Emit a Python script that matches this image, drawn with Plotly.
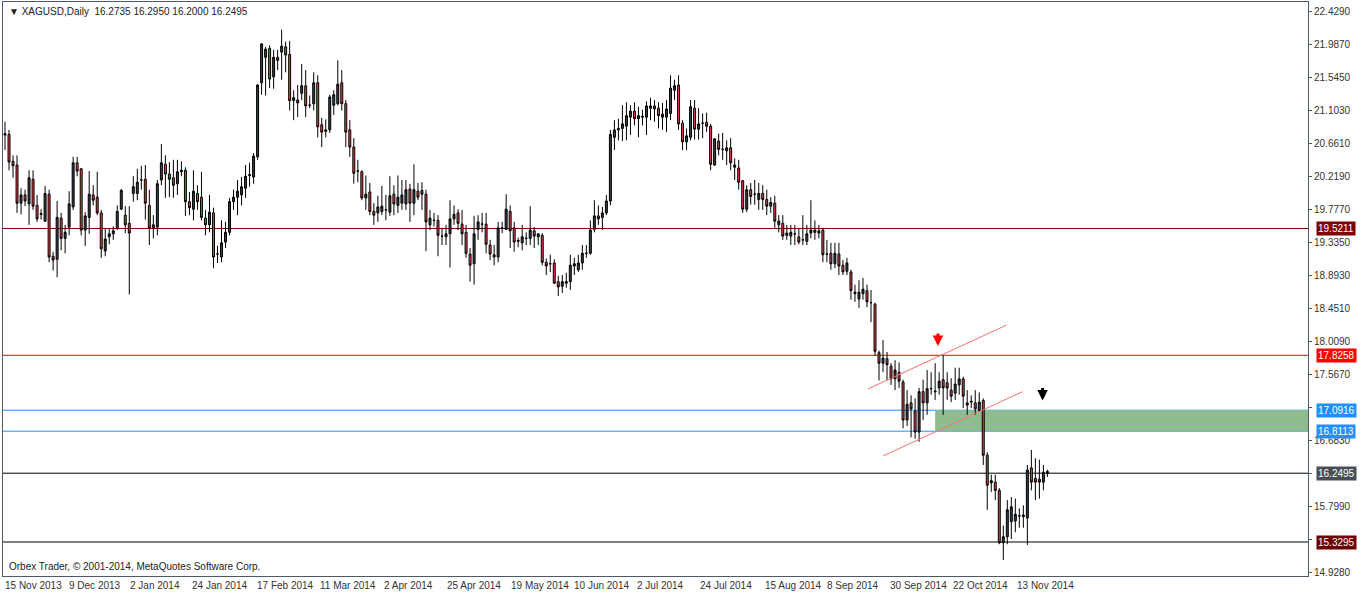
import plotly.graph_objects as go

bars = [
(20.77,20.95,20.57,20.79),(20.78,20.84,20.30,20.41),(20.42,20.50,20.20,20.36),(20.37,20.50,19.73,19.86),
(19.86,20.06,19.71,19.97),(19.97,20.04,19.82,19.89),(19.85,20.30,19.57,20.20),(20.18,20.30,19.77,19.82),
(19.83,19.97,19.61,19.65),(19.71,19.78,19.64,19.72),(19.62,20.09,19.61,19.99),(19.98,20.04,19.07,19.14),
(19.15,19.21,18.96,19.10),(19.11,19.89,18.87,19.67),(19.66,19.73,19.23,19.39),(19.39,19.57,19.19,19.47),
(19.54,20.02,19.43,19.85),(19.81,20.48,19.77,20.40),(20.40,20.48,20.22,20.29),(20.32,20.33,19.43,19.50),
(19.50,19.74,19.29,19.69),(19.67,20.29,19.45,19.98),(19.97,20.10,19.83,19.90),(19.94,20.28,19.70,19.73),
(19.73,19.77,19.13,19.25),(19.22,19.53,19.15,19.38),(19.41,19.53,19.31,19.45),(19.45,19.55,19.37,19.49),
(19.53,19.83,19.50,19.75),(19.78,20.05,19.77,20.03),(19.70,19.82,19.46,19.57),(19.59,19.82,18.64,19.46),
(19.99,20.22,19.88,20.08),(19.99,20.32,19.90,20.14),(20.17,20.36,20.04,20.17),(20.18,20.37,19.64,19.86),
(19.83,20.04,19.30,19.53),(19.53,19.70,19.39,19.57),(19.54,20.17,19.43,20.12),(20.17,20.65,20.10,20.40),
(20.38,20.50,19.93,20.25),(20.25,20.41,19.94,20.18),(20.20,20.44,19.93,20.10),(20.12,20.44,19.97,20.28),
(20.28,20.42,20.22,20.30),(20.30,20.34,19.69,19.88),(19.88,20.01,19.70,19.80),(19.78,20.30,19.63,20.02),
(19.99,20.10,19.77,19.88),(19.94,20.28,19.63,19.67),(19.66,19.77,19.43,19.57),(19.57,19.97,19.47,19.74),
(19.73,19.80,18.99,19.14),(19.18,19.29,19.06,19.18),(19.14,19.63,19.07,19.33),(19.34,19.61,19.26,19.47),
(19.47,19.93,19.43,19.88),(19.88,20.04,19.77,19.94),(19.94,20.17,19.70,20.02),(19.97,20.21,19.83,20.08),
(20.06,20.37,19.93,20.22),(20.23,20.40,20.08,20.24),(20.21,20.53,20.12,20.49),(20.48,21.45,20.44,21.44),
(21.47,22.00,21.31,21.99),(21.81,21.95,21.30,21.92),(21.93,21.97,21.40,21.52),(21.55,21.91,21.39,21.81),
(21.81,21.91,21.64,21.77),(21.88,22.18,21.51,21.96),(21.95,22.02,21.61,21.84),(21.85,22.03,21.10,21.23),
(21.23,21.37,20.97,21.27),(21.24,21.44,21.01,21.20),(21.33,21.72,21.24,21.43),(21.43,21.64,21.01,21.16),
(21.17,21.30,21.13,21.17),(21.19,21.61,21.10,21.47),(21.47,21.57,20.74,20.88),(20.91,21.00,20.61,20.81),
(20.82,20.98,20.74,20.84),(20.84,21.31,20.80,21.28),(21.17,21.37,21.04,21.31),(21.19,21.77,21.17,21.45),
(21.47,21.64,21.10,21.19),(21.19,21.24,20.61,20.81),(20.84,20.97,20.48,20.61),(20.61,20.73,20.12,20.26),
(20.29,20.44,20.14,20.29),(20.28,20.30,19.90,19.93),(19.93,20.23,19.77,19.98),(20.01,20.13,19.70,19.75),
(19.75,19.86,19.57,19.70),(19.73,19.96,19.61,19.81),(19.75,20.09,19.70,19.82),(19.77,19.97,19.63,19.77),
(19.74,20.22,19.69,19.96),(19.98,20.10,19.70,19.85),(19.83,20.23,19.73,19.94),(19.86,20.17,19.77,19.97),
(19.85,20.17,19.77,20.04),(20.05,20.12,19.61,19.86),(19.86,20.38,19.70,20.04),(20.02,20.13,19.90,19.94),
(20.03,20.14,19.77,19.98),(19.98,20.04,19.22,19.61),(19.57,19.77,19.50,19.66),(19.63,19.73,19.55,19.63),
(19.63,19.70,19.15,19.43),(19.42,19.53,19.30,19.42),(19.41,19.57,19.30,19.45),(19.45,19.90,19.00,19.65),
(19.65,19.83,19.57,19.71),(19.73,19.78,19.50,19.59),(19.58,19.77,19.30,19.45),(19.47,19.57,19.13,19.19),
(19.18,19.26,18.81,19.03),(19.05,19.69,18.77,19.45),(19.51,19.70,19.37,19.61),(19.58,19.73,19.47,19.58),
(19.58,19.73,19.19,19.31),(19.30,19.37,19.10,19.18),(19.17,19.30,19.03,19.14),(19.14,19.61,19.07,19.53),
(19.53,19.61,19.46,19.53),(19.51,19.98,19.50,19.78),(19.75,19.83,19.26,19.49),(19.53,19.61,19.21,19.34),
(19.35,19.40,19.27,19.36),(19.33,19.57,19.23,19.41),(19.39,19.47,19.30,19.39),(19.39,19.82,19.30,19.50),
(19.49,19.54,19.26,19.42),(19.41,19.45,19.30,19.45),(19.43,19.46,19.03,19.07),(19.07,19.12,18.90,19.02),
(19.05,19.17,18.94,19.05),(19.06,19.11,18.78,18.79),(18.81,18.89,18.62,18.74),(18.75,18.90,18.66,18.81),
(18.79,18.93,18.73,18.81),(18.81,19.17,18.70,19.03),(19.02,19.13,18.90,19.05),(18.97,19.17,18.94,19.06),
(19.06,19.30,18.97,19.19),(19.19,19.30,19.13,19.19),(19.19,19.63,19.17,19.50),(19.51,19.90,19.47,19.69),
(19.69,19.83,19.57,19.65),(19.67,19.81,19.50,19.73),(19.73,19.97,19.70,19.89),(19.89,20.84,19.83,20.78),
(20.74,20.97,20.57,20.84),(20.84,20.99,20.70,20.86),(20.86,21.17,20.69,20.92),(20.89,21.21,20.70,21.03),
(21.01,21.17,20.77,21.09),(21.09,21.21,20.90,20.99),(20.99,21.15,20.74,21.03),(21.01,21.11,20.90,21.02),
(21.01,21.22,20.77,21.16),(21.13,21.27,20.97,21.16),(21.16,21.24,20.95,21.12),(21.13,21.21,20.86,21.03),
(21.01,21.20,20.84,21.05),(21.01,21.24,20.81,21.12),(21.06,21.57,20.97,21.40),(21.37,21.51,21.24,21.43),
(21.44,21.57,20.84,20.92),(20.93,20.97,20.57,20.68),(20.68,20.86,20.57,20.76),(20.74,21.24,20.70,21.15),
(21.13,21.24,20.71,20.85),(20.85,21.13,20.71,20.92),(20.93,21.06,20.73,20.93),(20.94,21.07,20.81,20.89),
(20.89,20.92,20.30,20.38),(20.37,20.73,20.36,20.72),(20.69,20.79,20.50,20.58),(20.58,20.80,20.44,20.58),
(20.56,20.70,20.37,20.60),(20.60,20.73,20.30,20.40),(20.37,20.46,20.17,20.34),(20.33,20.44,20.04,20.14),
(20.16,20.17,19.73,19.78),(19.78,20.10,19.74,20.04),(20.04,20.13,19.84,19.95),(19.98,20.17,19.84,19.98),
(19.91,20.13,19.77,19.99),(19.99,20.10,19.77,19.91),(19.91,20.04,19.70,19.82),(19.82,19.94,19.73,19.87),
(19.86,19.96,19.53,19.62),(19.57,19.70,19.47,19.62),(19.59,19.70,19.37,19.42),(19.43,19.57,19.37,19.46),
(19.42,19.57,19.30,19.47),(19.45,19.57,19.30,19.45),(19.41,19.53,19.31,19.34),(19.37,19.70,19.30,19.37),
(19.35,19.57,19.30,19.45),(19.46,19.90,19.39,19.50),(19.50,19.63,19.37,19.47),(19.49,19.57,19.39,19.46),
(19.50,19.53,19.07,19.17),(19.18,19.37,19.07,19.18),(19.19,19.33,18.97,19.05),(19.05,19.33,18.99,19.19),
(19.18,19.33,18.90,19.02),(19.03,19.10,18.90,18.94),(18.95,19.13,18.90,19.06),(18.94,18.97,18.57,18.69),
(18.65,18.77,18.54,18.67),(18.58,18.83,18.46,18.67),(18.65,18.86,18.57,18.71),(18.69,18.77,18.47,18.54),
(18.53,18.70,18.27,18.53),(18.51,18.53,17.82,17.88),(17.86,17.89,17.49,17.72),(17.72,18.03,17.60,17.79),
(17.78,17.87,17.49,17.70),(17.68,17.72,17.43,17.51),(17.51,17.76,17.36,17.63),(17.60,17.73,17.39,17.48),
(17.47,17.50,16.85,16.96),(16.96,17.36,16.88,17.17),(17.19,17.29,16.73,17.11),(17.08,17.25,16.71,16.80),
(16.80,17.39,16.67,17.34),(17.34,17.50,16.96,17.19),(17.19,17.63,17.03,17.38),(17.38,17.60,17.30,17.38),
(17.35,17.72,17.23,17.34),(17.39,17.60,17.30,17.48),(17.50,17.83,17.03,17.39),(17.46,17.60,17.23,17.39),
(17.36,17.52,17.20,17.28),(17.32,17.66,17.23,17.44),(17.43,17.66,17.30,17.51),(17.51,17.54,17.12,17.28),
(17.19,17.36,17.03,17.16),(17.20,17.29,17.12,17.21),(17.19,17.36,17.03,17.11),(17.09,17.33,17.07,17.20),
(17.22,17.25,16.36,16.49),(16.49,16.53,15.76,16.09),(16.12,16.23,16.00,16.15),(16.13,16.23,15.89,16.02),
(16.02,16.05,15.30,15.32),(15.32,15.55,15.09,15.40),(15.40,15.89,15.30,15.76),(15.60,15.93,15.37,15.80),
(15.61,15.91,15.46,15.70),(15.68,15.78,15.52,15.68),(15.67,15.82,15.52,15.69),(15.65,16.36,15.29,16.29),
(16.32,16.56,16.02,16.13),(16.18,16.45,15.89,16.13),(16.17,16.43,15.91,16.13),(16.13,16.36,16.02,16.26),
(16.2735,16.2950,16.2000,16.2495),
]
opens = [b[0] for b in bars]
highs = [b[1] for b in bars]
lows = [b[2] for b in bars]
closes = [b[3] for b in bars]

date_labels = ["15 Nov 2013", "9 Dec 2013", "2 Jan 2014", "24 Jan 2014", "17 Feb 2014", "11 Mar 2014",
               "2 Apr 2014", "25 Apr 2014", "19 May 2014", "10 Jun 2014", "2 Jul 2014", "24 Jul 2014",
               "15 Aug 2014", "8 Sep 2014", "30 Sep 2014", "22 Oct 2014", "13 Nov 2014"]
date_label_pos = [0, 16, 31.2, 46.6, 62.8, 78.6, 94.5, 110.2, 126.2, 141.9, 157.6, 173.3,
                  189.5, 205.0, 220.7, 236.4, 252.4]
y_ticks = [22.4290, 21.9870, 21.5450, 21.1030, 20.6610, 20.2190, 19.7770, 19.3350, 18.8930,
           18.4510, 18.0090, 17.5670, 17.1250, 16.6830, 16.2410, 15.7990, 15.3570, 14.9280]
hidden_ticks = [17.1250, 16.2410, 15.3570]
levels = [(19.5211, "#800000", "#800000", "white"), (17.8258, "#ff0000", "#ff0000", "white"),
          (17.0916, "#1e90ff", "#1e90ff", "white"), (16.8113, "#1e90ff", "#1e90ff", "white"),
          (16.2495, "#000000", "#464f57", "white"), (15.3295, "#000000", "#6b0000", "white")]
zone = (232.0, 17.0916, 16.8113)
trend1 = [(215.2, 17.375), (249.8, 18.23)]
trend2 = [(219.0, 16.48), (253.8, 17.34)]
arrows = [(232.7, 17.95, "#ff0000"), (258.8, 17.22, "#000000")]

x = list(range(len(bars)))
fig = go.Figure()
fig.add_trace(go.Candlestick(
    x=x, open=opens, high=highs, low=lows, close=closes,
    increasing=dict(line=dict(color="#000000", width=1), fillcolor="#36414b"),
    decreasing=dict(line=dict(color="#000000", width=1), fillcolor="#e2434b"),
    whiskerwidth=0, showlegend=False, hoverinfo="skip"))

XMIN, XMAX = -0.5, 325.0
shapes = []
shapes.append(dict(type="rect", xref="x", yref="y", x0=zone[0], x1=XMAX, y0=zone[2], y1=zone[1],
                   fillcolor="#8fbc8f", line=dict(width=0), layer="below"))
for val, lc, bg, fc in levels:
    shapes.append(dict(type="line", xref="paper", yref="y", x0=0, x1=1, y0=val, y1=val,
                       line=dict(color=lc, width=1), layer="below"))
for t in (trend1, trend2):
    shapes.append(dict(type="line", xref="x", yref="y", x0=t[0][0], y0=t[0][1], x1=t[1][0], y1=t[1][1],
                       line=dict(color="#ff6f6f", width=1)))
fig.update_layout(shapes=shapes)

ann = []
for val, lc, bg, fc in levels:
    ann.append(dict(xref="paper", yref="y", x=1.0, y=val, xanchor="left", yanchor="middle", xshift=8,
                    text=f"{val:.4f}", showarrow=False, bgcolor=bg,
                    font=dict(family="Liberation Sans, Arial", size=10, color=fc), borderpad=1))
for pos, lab in zip(date_label_pos, date_labels):
    ann.append(dict(xref="x", yref="paper", x=pos, y=0, yanchor="top", xanchor="left",
                    xshift=-2, yshift=-2, text=lab, showarrow=False,
                    font=dict(family="Liberation Sans, Arial", size=10, color="#333")))
for ax_, ay_, c in arrows:
    ann.append(dict(xref="x", yref="y", x=ax_, y=ay_, ax=0, ay=-14, showarrow=True,
                    arrowhead=2, arrowsize=0.7, arrowwidth=3, arrowcolor=c, text=""))
ann.append(dict(xref="paper", yref="paper", x=0.003, y=1, yshift=-2, xanchor="left", yanchor="top",
                text="▼ XAGUSD,Daily  16.2735 16.2950 16.2000 16.2495", showarrow=False,
                font=dict(family="Liberation Sans, Arial", size=10, color="#222")))
ann.append(dict(xref="paper", yref="paper", x=0.003, y=0, yshift=2, xanchor="left", yanchor="bottom",
                text="Orbex Trader, © 2001-2014, MetaQuotes Software Corp.", showarrow=False,
                font=dict(family="Liberation Sans, Arial", size=10, color="#222")))
fig.update_layout(annotations=ann)

fig.update_layout(
    width=1362, height=594, margin=dict(l=3, r=54, t=2, b=18, autoexpand=False),
    paper_bgcolor="white", plot_bgcolor="white",
    xaxis=dict(range=[XMIN, XMAX], rangeslider=dict(visible=False), showgrid=False, showticklabels=False,
               zeroline=False, showline=True, linecolor="#4d5966", mirror=True),
    yaxis=dict(range=[14.875, 22.55], side="right", tickvals=y_ticks,
               ticktext=["" if v in hidden_ticks else f"{v:.4f}" for v in y_ticks],
               showgrid=False, zeroline=False, showline=True, linecolor="#4d5966", mirror=True,
               ticks="outside", ticklen=3, tickcolor="#4d5966",
               tickfont=dict(family="Liberation Sans, Arial", size=10, color="#333")),
)
fig.write_html("out.html", config={"displayModeBar": False},
               post_script="document.body.style.margin='0';document.body.style.overflow='hidden';")
